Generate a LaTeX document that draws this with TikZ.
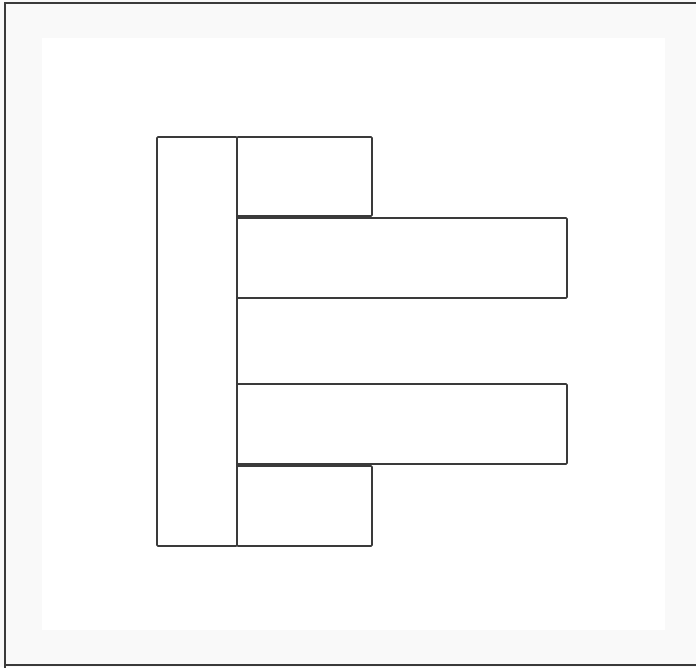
\documentclass[tikz,border=0pt]{standalone}
\usetikzlibrary{positioning}
\definecolor{margin}{HTML}{F9F9F9}
\definecolor{ink}{HTML}{3A3A3A}
\tikzset{
  block/.style={draw=ink, line width=1.6pt, rounded corners=1pt, fill=white},
}
\begin{document}
\begin{tikzpicture}[x=1pt,y=-1pt]
\useasboundingbox (0,0) rectangle (696,667);
\fill[margin] (0,0) rectangle (696,667);
\fill[white] (42,38) rectangle (665,630);
\draw[ink, line width=2pt] (5,668) -- (5,3) -- (697,3);
\draw[ink, line width=2pt] (5,664.5) -- (697,664.5);
% blocks
\draw[block] (157,137) rectangle (237,546);
\draw[block] (237,137) rectangle (372,216);
\draw[block] (237,218) rectangle (567,298);
\draw[block] (237,384) rectangle (567,464);
\draw[block] (237,466) rectangle (372,546);
\end{tikzpicture}
\end{document}
